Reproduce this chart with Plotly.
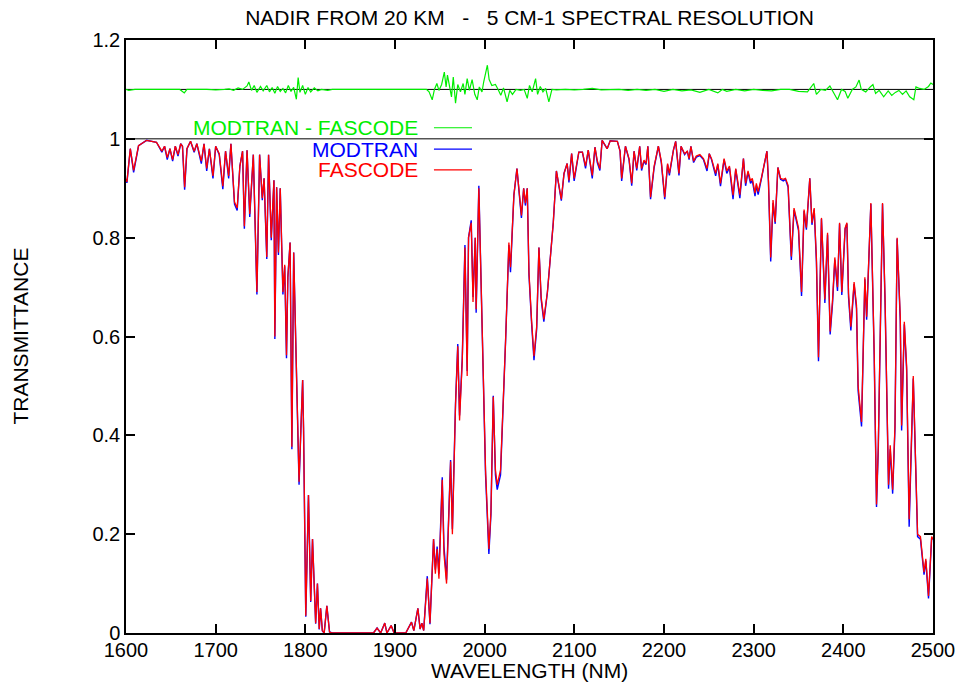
import plotly.graph_objects as go

# ---------------- data ----------------
wavelength = [
    1600, 1601, 1604.8, 1608.5, 1614, 1623, 1634, 1640, 1643, 1646, 1649, 1652, 1655, 1658, 1661, 1663,
    1665.4, 1668, 1672, 1676, 1679, 1684, 1687, 1690, 1693, 1697, 1700, 1704, 1708, 1711, 1714.5, 1717,
    1721, 1724, 1727, 1730, 1732, 1735, 1738, 1742, 1746, 1749, 1752, 1754, 1757, 1759, 1762, 1765,
    1766, 1768, 1770, 1772, 1775, 1777, 1779, 1780.5, 1783, 1785, 1787, 1789.5, 1791, 1793, 1795, 1797,
    1798, 1800.5, 1803.5, 1806, 1808, 1811.5, 1813.5, 1815.5, 1817, 1819, 1821, 1824, 1827, 1830, 1840,
    1850, 1860, 1870, 1876, 1880, 1884, 1888.6, 1891, 1895.7, 1899, 1905, 1912, 1918.4, 1921, 1925.5,
    1928, 1930, 1932, 1936, 1939, 1943, 1945, 1947, 1949, 1952.7, 1954.6, 1957.5, 1962, 1964, 1967.5,
    1970, 1972, 1975, 1978, 1980.5, 1982, 1985, 1987, 1989.5, 1990.5, 1993.5, 1996, 1998.5, 2001,
    2004.7, 2007, 2009.6, 2012, 2014, 2017.7, 2023.3, 2027, 2028.8, 2032.6, 2036, 2041, 2043.5, 2045.4,
    2047.5, 2049.4, 2052.3, 2055, 2058, 2060.5, 2063, 2066, 2070, 2073, 2076.5, 2080, 2085.5, 2088.5,
    2092, 2094, 2097, 2099.8, 2102, 2105, 2109, 2112.5, 2115.5, 2120, 2123, 2125.6, 2128.5, 2131,
    2136.6, 2140, 2148, 2151, 2152.8, 2157, 2161, 2164, 2166.6, 2169.6, 2172.9, 2175, 2177.7, 2180,
    2182, 2185, 2189, 2193.7, 2197, 2200.8, 2204, 2206, 2210.5, 2213, 2216.7, 2219, 2223, 2226, 2228,
    2230, 2233, 2236, 2240, 2244, 2248, 2250.5, 2253, 2257.6, 2260, 2263, 2267, 2270, 2273, 2277, 2280,
    2284.6, 2288.6, 2291, 2293.7, 2296.5, 2298.5, 2301.5, 2303, 2305, 2308.5, 2312.6, 2314.8, 2316.5,
    2319, 2321.6, 2324, 2327, 2330, 2333, 2335.5, 2338.4, 2342, 2345, 2348.5, 2350, 2353.4, 2356.2,
    2358.8, 2362.6, 2365, 2367.5, 2370, 2372.3, 2375.6, 2379.4, 2382.4, 2385.3, 2388, 2390.5, 2393.5,
    2395.8, 2398.3, 2402, 2404, 2405.8, 2408.4, 2412, 2414.7, 2416.5, 2420.3, 2424, 2426, 2430.7,
    2434.4, 2437, 2439, 2443.7, 2446.5, 2450.4, 2452.3, 2455, 2457.6, 2460, 2463.5, 2465, 2468, 2470.6,
    2473.4, 2478, 2482.8, 2486, 2490, 2492, 2495, 2498.5, 2500,
]

fascode = [
    0.919, 0.913, 0.980, 0.936, 0.986, 0.997, 0.993, 0.975, 0.985, 0.962, 0.980, 0.958, 0.985, 0.968, 0.990, 0.985,
    0.902, 0.980, 0.995, 0.975, 0.990, 0.955, 0.990, 0.940, 0.980, 0.925, 0.985, 0.970, 0.904, 0.975, 0.925, 0.990,
    0.872, 0.860, 0.945, 0.975, 0.823, 0.977, 0.848, 0.968, 0.690, 0.968, 0.880, 0.920, 0.761, 0.968, 0.800, 0.916,
    0.600, 0.902, 0.770, 0.900, 0.690, 0.745, 0.562, 0.720, 0.790, 0.377, 0.770, 0.566, 0.431, 0.306, 0.410, 0.512,
    0.417, 0.035, 0.279, 0.065, 0.190, 0.020, 0.100, 0.008, 0.050, 0.005, 0.000, 0.055, 0.002, 0.000, 0.000,
    0.000, 0.000, 0.000, 0.000, 0.010, 0.000, 0.020, 0.000, 0.015, 0.000, 0.000, 0.000, 0.022, 0.005, 0.050,
    0.008, 0.020, 0.005, 0.110, 0.020, 0.190, 0.120, 0.170, 0.110, 0.310, 0.160, 0.100, 0.347, 0.200, 0.462,
    0.580, 0.430, 0.550, 0.780, 0.520, 0.800, 0.830, 0.670, 0.800, 0.655, 0.900, 0.700, 0.560, 0.330,
    0.170, 0.245, 0.478, 0.330, 0.300, 0.330, 0.590, 0.790, 0.740, 0.886, 0.940, 0.845, 0.900, 0.870,
    0.900, 0.730, 0.633, 0.560, 0.620, 0.780, 0.680, 0.635, 0.690, 0.760, 0.830, 0.935, 0.878, 0.930,
    0.950, 0.916, 0.970, 0.920, 0.940, 0.973, 0.973, 0.945, 0.977, 0.926, 0.983, 0.956, 0.940, 0.997,
    0.980, 0.996, 0.995, 0.975, 0.920, 0.985, 0.960, 0.910, 0.975, 0.940, 0.985, 0.940, 0.957, 0.950,
    0.985, 0.882, 0.945, 0.985, 0.955, 0.882, 0.950, 0.930, 0.977, 0.995, 0.930, 0.985, 0.970, 0.975, 0.960,
    0.985, 0.955, 0.965, 0.968, 0.960, 0.940, 0.970, 0.960, 0.930, 0.950, 0.910, 0.960, 0.935, 0.945, 0.886, 0.940,
    0.887, 0.960, 0.910, 0.935, 0.915, 0.920, 0.890, 0.910, 0.893, 0.920, 0.958, 0.975, 0.915,
    0.760, 0.876, 0.832, 0.942, 0.920, 0.918, 0.920, 0.906, 0.762, 0.860, 0.830, 0.820, 0.690, 0.857,
    0.820, 0.920, 0.830, 0.860, 0.758, 0.558, 0.840, 0.675, 0.810, 0.610, 0.675, 0.760, 0.700,
    0.830, 0.690, 0.820, 0.830, 0.687, 0.620, 0.710, 0.663, 0.500, 0.427, 0.720, 0.640, 0.870,
    0.570, 0.260, 0.380, 0.870, 0.680, 0.300, 0.380, 0.290, 0.420, 0.800, 0.640, 0.420, 0.630, 0.540,
    0.230, 0.520, 0.200, 0.195, 0.123, 0.150, 0.075, 0.195, 0.190,
]

modtran = [
    0.917, 0.911, 0.980, 0.932, 0.986, 0.997, 0.993, 0.973, 0.985, 0.958, 0.980, 0.955, 0.985, 0.965, 0.990, 0.985,
    0.897, 0.980, 0.995, 0.973, 0.990, 0.950, 0.990, 0.935, 0.980, 0.920, 0.985, 0.968, 0.898, 0.975, 0.920, 0.990,
    0.868, 0.855, 0.945, 0.975, 0.818, 0.977, 0.842, 0.968, 0.685, 0.968, 0.876, 0.920, 0.757, 0.968, 0.795, 0.916,
    0.595, 0.902, 0.765, 0.900, 0.685, 0.742, 0.556, 0.720, 0.790, 0.372, 0.770, 0.560, 0.428, 0.300, 0.410, 0.512,
    0.415, 0.033, 0.279, 0.063, 0.190, 0.019, 0.100, 0.007, 0.050, 0.004, 0.000, 0.055, 0.002, 0.000, 0.000,
    0.000, 0.000, 0.000, 0.000, 0.010, 0.000, 0.020, 0.000, 0.015, 0.000, 0.000, 0.000, 0.022, 0.005, 0.050,
    0.008, 0.020, 0.005, 0.115, 0.018, 0.190, 0.128, 0.175, 0.120, 0.315, 0.175, 0.108, 0.350, 0.210, 0.465,
    0.585, 0.440, 0.555, 0.785, 0.530, 0.800, 0.835, 0.680, 0.800, 0.648, 0.905, 0.705, 0.565, 0.320,
    0.160, 0.240, 0.480, 0.320, 0.290, 0.320, 0.590, 0.785, 0.730, 0.886, 0.940, 0.840, 0.900, 0.865,
    0.900, 0.725, 0.628, 0.552, 0.615, 0.780, 0.675, 0.630, 0.690, 0.760, 0.830, 0.935, 0.875, 0.930,
    0.950, 0.912, 0.970, 0.915, 0.940, 0.973, 0.973, 0.940, 0.977, 0.920, 0.983, 0.952, 0.936, 0.997,
    0.980, 0.996, 0.995, 0.975, 0.915, 0.985, 0.958, 0.905, 0.975, 0.936, 0.985, 0.936, 0.955, 0.948,
    0.985, 0.878, 0.942, 0.985, 0.952, 0.878, 0.948, 0.926, 0.977, 0.995, 0.926, 0.985, 0.968, 0.975, 0.958,
    0.985, 0.952, 0.963, 0.966, 0.958, 0.935, 0.970, 0.958, 0.925, 0.948, 0.904, 0.958, 0.930, 0.942, 0.878, 0.938,
    0.880, 0.960, 0.905, 0.932, 0.910, 0.916, 0.884, 0.906, 0.887, 0.918, 0.958, 0.975, 0.912,
    0.752, 0.870, 0.828, 0.942, 0.918, 0.915, 0.918, 0.902, 0.755, 0.856, 0.826, 0.815, 0.682, 0.854,
    0.816, 0.920, 0.826, 0.857, 0.750, 0.550, 0.838, 0.668, 0.806, 0.604, 0.668, 0.755, 0.692,
    0.828, 0.684, 0.818, 0.828, 0.680, 0.612, 0.706, 0.656, 0.490, 0.418, 0.716, 0.634, 0.868,
    0.562, 0.255, 0.372, 0.868, 0.672, 0.292, 0.372, 0.282, 0.414, 0.798, 0.632, 0.410, 0.625, 0.532,
    0.215, 0.515, 0.195, 0.190, 0.118, 0.146, 0.070, 0.192, 0.190,
]

diff_wavelength = [
    1600, 1603, 1610, 1620, 1640, 1660, 1665, 1668, 1690, 1700, 1710, 1715, 1720, 1725, 1730, 1735, 1737,
    1740, 1743, 1746, 1750, 1753, 1757, 1760, 1763, 1766, 1769, 1772, 1775, 1778, 1781, 1784, 1787, 1790,
    1792, 1794, 1797, 1800, 1803, 1806, 1810, 1814, 1818, 1825, 1830, 1860, 1880, 1900, 1920, 1935, 1938,
    1941.5, 1944, 1946.7, 1949, 1952, 1955, 1957, 1958.5, 1961, 1963, 1965, 1967.5, 1970, 1973, 1976,
    1978, 1980.5, 1983, 1986, 1989, 1991.7, 1994, 1997, 1999, 2003, 2005, 2008, 2012, 2015, 2018, 2021,
    2025, 2028, 2031, 2035, 2040, 2044, 2047.5, 2050, 2053, 2056.8, 2059, 2062, 2065, 2068, 2071.6, 2075,
    2080, 2090, 2100, 2110, 2120, 2130, 2140, 2150, 2160, 2170, 2180, 2190, 2200, 2210, 2220, 2230, 2240,
    2250, 2260, 2265, 2270, 2280, 2290, 2300, 2310, 2320, 2330, 2340, 2350, 2360, 2367, 2370, 2375, 2380,
    2385, 2388, 2393.5, 2398, 2402, 2405, 2410, 2414, 2417.6, 2420, 2425, 2430, 2433, 2436, 2440, 2445,
    2450, 2454, 2458, 2462, 2466, 2470, 2474, 2478.6, 2481, 2485, 2490, 2495, 2497.6, 2500,
]

diff_shifted = [
    1.100, 1.098, 1.100, 1.100, 1.099, 1.100, 1.093, 1.100, 1.100, 1.099, 1.100, 1.101, 1.098, 1.103, 1.100, 1.107, 1.115,
    1.098, 1.108, 1.094, 1.106, 1.097, 1.108, 1.095, 1.104, 1.092, 1.106, 1.096, 1.102, 1.093, 1.108, 1.096, 1.104, 1.080,
    1.124, 1.094, 1.108, 1.090, 1.104, 1.095, 1.103, 1.097, 1.100, 1.098, 1.100, 1.100, 1.099, 1.100, 1.100, 1.100, 1.095,
    1.079, 1.100, 1.112, 1.098, 1.110, 1.135, 1.105, 1.129, 1.100, 1.085, 1.125, 1.072, 1.110, 1.095, 1.112,
    1.090, 1.122, 1.098, 1.120, 1.090, 1.079, 1.105, 1.095, 1.116, 1.149, 1.120, 1.108, 1.110, 1.100, 1.088, 1.103,
    1.075, 1.098, 1.090, 1.100, 1.098, 1.100, 1.082, 1.108, 1.095, 1.122, 1.090, 1.106, 1.095, 1.102, 1.075, 1.100,
    1.099, 1.100, 1.099, 1.100, 1.102, 1.099, 1.100, 1.100, 1.098, 1.100, 1.098, 1.100, 1.096, 1.100, 1.097, 1.099, 1.094,
    1.100, 1.093, 1.100, 1.096, 1.100, 1.097, 1.100, 1.098, 1.097, 1.100, 1.100, 1.096, 1.095, 1.112, 1.090, 1.100, 1.098,
    1.107, 1.096, 1.079, 1.100, 1.096, 1.082, 1.100, 1.105, 1.119, 1.100, 1.095, 1.105, 1.110, 1.092, 1.098, 1.085,
    1.097, 1.088, 1.094, 1.098, 1.090, 1.097, 1.085, 1.079, 1.105, 1.102, 1.100, 1.106, 1.113, 1.110,
]

x_ticks = [1600, 1700, 1800, 1900, 2000, 2100, 2200, 2300, 2400, 2500]
y_ticks = [0, 0.2, 0.4, 0.6, 0.8, 1, 1.2]
y_tick_labels = ["0", "0.2", "0.4", "0.6", "0.8", "1", "1.2"]
reference_levels = [1.0, 1.1]
legend_names = ["MODTRAN - FASCODE", "MODTRAN", "FASCODE"]
legend_colors = ["#00ee00", "#0000ff", "#ff0000"]

FONT = "Liberation Sans, Arial, Helvetica, sans-serif"

fig = go.Figure()

for lvl in reference_levels:
    fig.add_trace(go.Scatter(x=[x_ticks[0], x_ticks[-1]], y=[lvl, lvl], mode="lines",
                             line=dict(color="black", width=1), showlegend=False, hoverinfo="skip"))

fig.add_trace(go.Scatter(x=diff_wavelength, y=diff_shifted, mode="lines", name=legend_names[0],
                         line=dict(color=legend_colors[0], width=1.2), showlegend=False))
fig.add_trace(go.Scatter(x=wavelength, y=modtran, mode="lines", name=legend_names[1],
                         line=dict(color=legend_colors[1], width=1.4), showlegend=False))
fig.add_trace(go.Scatter(x=wavelength, y=fascode, mode="lines", name=legend_names[2],
                         line=dict(color=legend_colors[2], width=1.3), showlegend=False))

# legend drawn gnuplot-style: right-aligned text with a line sample after it
legend_y = [0.852, 0.816, 0.781]
for name, col, yy in zip(legend_names, legend_colors, legend_y):
    fig.add_annotation(x=0.3643, y=yy, xref="paper", yref="paper", text=name, showarrow=False,
                       xanchor="right", yanchor="middle", font=dict(family=FONT, size=21, color=col))
    fig.add_shape(type="line", xref="paper", yref="paper", x0=0.3816, x1=0.4288, y0=yy, y1=yy,
                  line=dict(color=col, width=1.2))

# axis titles placed like the gnuplot original
fig.add_annotation(x=0.5, y=-0.0625, xref="paper", yref="paper", text="WAVELENGTH (NM)",
                   showarrow=False, xanchor="center", yanchor="middle",
                   font=dict(family=FONT, size=21, color="black"))
fig.add_annotation(x=-0.1313, y=0.5, xref="paper", yref="paper", text="TRANSMITTANCE",
                   showarrow=False, xanchor="center", yanchor="middle", textangle=-90,
                   font=dict(family=FONT, size=21, color="black"))

fig.update_layout(
    width=959, height=687,
    margin=dict(l=126, r=26, t=40, b=54, autoexpand=False),
    paper_bgcolor="white", plot_bgcolor="white",
    title=dict(text="NADIR FROM 20 KM   -   5 CM-1 SPECTRAL RESOLUTION", x=0.5, xref="paper",
               xanchor="center", y=0.974, yanchor="middle", font=dict(family=FONT, size=21, color="black")),
    font=dict(family=FONT, size=19, color="black"),
    showlegend=False,
)
fig.update_xaxes(range=[1600, 2500], tickvals=x_ticks, ticks="inside", ticklen=9, tickwidth=1.5,
                 tickcolor="black", showline=True, linecolor="black", linewidth=1.5, mirror="ticks",
                 showgrid=False, zeroline=False, tickfont=dict(family=FONT, size=20), automargin=False,
                 ticklabelstandoff=-2)
fig.update_yaxes(range=[0, 1.2], tickvals=y_ticks, ticktext=y_tick_labels, ticks="inside", ticklen=9,
                 tickwidth=1.5, tickcolor="black", showline=True, linecolor="black", linewidth=1.5,
                 mirror="ticks", showgrid=False, zeroline=False, tickfont=dict(family=FONT, size=20),
                 automargin=False)

fig.write_html("out.html")
